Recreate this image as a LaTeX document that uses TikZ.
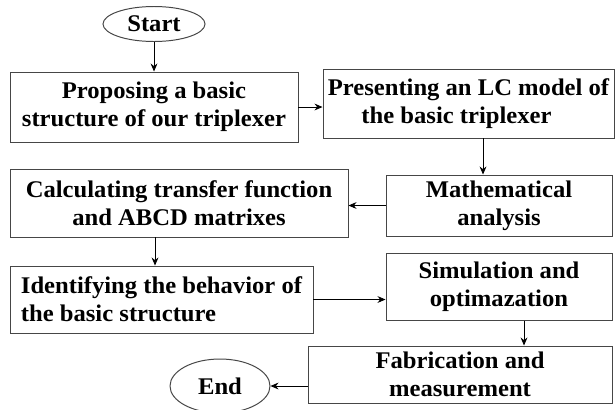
\documentclass[tikz,border=0pt]{standalone}
\usepackage{fontspec}
\setmainfont[FakeStretch=1.03]{Liberation Serif}
\usetikzlibrary{arrows.meta,shapes.geometric}
\definecolor{boxline}{RGB}{70,70,70}
\tikzset{
  stepbox/.style={draw=boxline,line width=0.7pt,fill=white,
    align=center,font=\fontsize{17}{20}\selectfont\bfseries,
    inner sep=2pt},
  terminal/.style={ellipse,draw=boxline,line width=0.7pt,fill=white,
    inner sep=0pt,font=\fontsize{17}{20}\selectfont\bfseries},
  mainflow/.style={draw=black,line width=0.6pt,-{Stealth[length=2mm,width=1.7mm]}}
}

\begin{document}
\begin{tikzpicture}[x=0.025cm,y=-0.025cm]
  \useasboundingbox[fill=white] (0,0) rectangle (616,409);

  \node[terminal,minimum width=102*0.025cm,minimum height=35*0.025cm] (start) at (154,24) {Start};
  \node[stepbox,minimum width=288*0.025cm,minimum height=70*0.025cm] (propose) at (154,107)
    {Proposing a basic\\structure of our triplexer};
  \node[stepbox,minimum width=291*0.025cm,minimum height=69*0.025cm] (lcmodel) at (468.5,103.5)
    {Presenting an LC model of\\the basic triplexer\hspace*{0.6cm}};
  \node[stepbox,minimum width=226*0.025cm,minimum height=61*0.025cm] (analysis) at (499,205.5)
    {Mathematical\\analysis};
  \node[stepbox,minimum width=338*0.025cm,minimum height=68*0.025cm] (transfer) at (179,203)
    {Calculating transfer function\\and ABCD matrixes};
  \node[stepbox,minimum width=303*0.025cm,minimum height=67*0.025cm,align=left] (behavior) at (161.5,299.5)
    {Identifying the behavior of\\the basic structure\hspace*{1.1cm}};
  \node[stepbox,minimum width=226*0.025cm,minimum height=67*0.025cm] (simul) at (499,286.5)
    {Simulation and\\optimazation};
  \node[stepbox,minimum width=304*0.025cm,minimum height=57*0.025cm] (fabric) at (460,374.5)
    {Fabrication and\\measurement};
  \node[terminal,minimum width=100*0.025cm,minimum height=54*0.025cm] (end) at (220,386) {End};

  % drop points of the vertical arrows
  \coordinate (drop23) at (483,0);
  \coordinate (drop45) at (155,0);
  \coordinate (drop67) at (524,0);

  \draw[mainflow] (start) -- (propose);
  \draw[mainflow] (propose.east) -- (propose.east -| lcmodel.west);
  \draw[mainflow] (lcmodel.south -| drop23) -- (analysis.north -| drop23);
  \draw[mainflow] (analysis.west) -- (analysis.west -| transfer.east);
  \draw[mainflow] (transfer.south -| drop45) -- (behavior.north -| drop45);
  \draw[mainflow] (behavior.east) -- (behavior.east -| simul.west);
  \draw[mainflow] (simul.south -| drop67) -- (fabric.north -| drop67);
  \draw[mainflow] (fabric.west |- end.east) -- (end.east);
\end{tikzpicture}
\end{document}
